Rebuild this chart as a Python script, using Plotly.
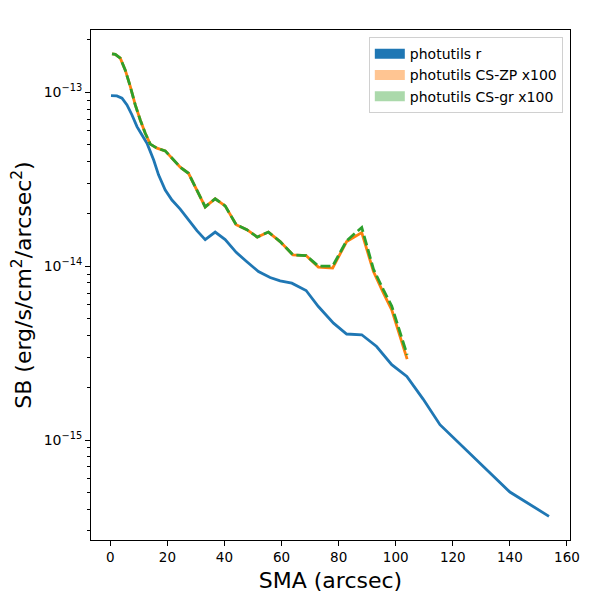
import plotly.graph_objects as go

# surface brightness profiles
sma_r = [0.25, 2.3, 4.1, 5.85, 7.6, 9.35, 11.1, 12.85, 15.2, 16.9, 19.25, 21.6, 24.5, 27.4,
         30.35, 33.25, 36.75, 40.25, 44.1, 47.85, 51.9, 56.0, 59.5, 63.6, 68.6, 72.9, 78.2,
         82.8, 88.1, 93.3, 98.6, 103.9, 109.6, 115.5, 127.2, 140.0, 153.7]
sb_r = [9.56e-14, 9.52e-14, 9.24e-14, 8.45e-14, 7.40e-14, 6.34e-14, 5.68e-14, 5.09e-14,
        4.08e-14, 3.35e-14, 2.74e-14, 2.40e-14, 2.13e-14, 1.85e-14, 1.60e-14, 1.42e-14,
        1.57e-14, 1.42e-14, 1.20e-14, 1.06e-14, 9.31e-15, 8.60e-15, 8.23e-15, 7.98e-15,
        7.24e-15, 5.86e-15, 4.70e-15, 4.07e-15, 4.03e-15, 3.45e-15, 2.71e-15, 2.32e-15,
        1.72e-15, 1.225e-15, 8.05e-16, 5.02e-16, 3.64e-16]

sma_cs = [0.6, 1.75, 3.5, 5.25, 7.0, 8.75, 10.5, 12.25, 14.0, 16.35, 19.25, 21.6, 24.5, 27.4,
          30.35, 33.25, 36.75, 40.25, 44.1, 47.85, 51.5, 55.4, 59.5, 64.0, 68.6, 72.9, 77.9,
          82.8, 88.1, 92.2, 95.7, 98.6, 104.0]
sb_zp = [1.66e-13, 1.65e-13, 1.57e-13, 1.34e-13, 1.08e-13, 8.45e-14, 6.93e-14, 5.81e-14,
         5.03e-14, 4.77e-14, 4.60e-14, 4.17e-14, 3.71e-14, 3.42e-14, 2.74e-14, 2.19e-14,
         2.44e-14, 2.22e-14, 1.73e-14, 1.62e-14, 1.47e-14, 1.57e-14, 1.385e-14, 1.16e-14,
         1.15e-14, 9.87e-15, 9.75e-15, 1.385e-14, 1.56e-14, 9.31e-15, 7.0e-15, 5.61e-15,
         2.92e-15]
sb_gr = [1.66e-13, 1.65e-13, 1.57e-13, 1.34e-13, 1.08e-13, 8.45e-14, 6.93e-14, 5.81e-14,
         5.03e-14, 4.77e-14, 4.60e-14, 4.17e-14, 3.71e-14, 3.42e-14, 2.74e-14, 2.19e-14,
         2.44e-14, 2.22e-14, 1.73e-14, 1.62e-14, 1.47e-14, 1.57e-14, 1.385e-14, 1.16e-14,
         1.15e-14, 1.0e-14, 1.0e-14, 1.40e-14, 1.67e-14, 9.6e-15, 7.3e-15, 5.9e-15,
         3.09e-15]

names = ["photutils r", "photutils CS-ZP x100", "photutils CS-gr x100"]
patch_colors = ["#1f77b4", "rgba(255,127,14,0.45)", "rgba(44,160,44,0.4)"]

x_ticks = [0, 20, 40, 60, 80, 100, 120, 140, 160]
y_ticks = [1e-15, 1e-14, 1e-13]
y_ticktext = ["10<sup>\u221215</sup>", "10<sup>\u221214</sup>", "10<sup>\u221213</sup>"]
# minor log ticks (2..9 in each decade)
minor_ticks = [m * 10.0 ** e for e in (-16, -15, -14, -13) for m in (2, 3, 4, 5, 6, 7, 8, 9)]

fig = go.Figure()

fig.add_trace(go.Scatter(x=sma_r, y=sb_r, mode="lines", showlegend=False,
                         line=dict(color="#1f77b4", width=2.8)))
fig.add_trace(go.Scatter(x=sma_cs, y=sb_zp, mode="lines", showlegend=False,
                         line=dict(color="#ff7f0e", width=2.8)))
fig.add_trace(go.Scatter(x=sma_cs, y=sb_gr, mode="lines", showlegend=False,
                         line=dict(color="#2ca02c", width=2.8, dash="10px,4px")))

# legend entries drawn as thick patches, like the matplotlib bands
for name, col in zip(names, patch_colors):
    fig.add_trace(go.Scatter(x=[None], y=[None], mode="lines",
                             line=dict(width=10, color=col), name=name))

axis_style = dict(showline=True, linecolor="black", linewidth=1, mirror=True,
                  ticks="outside", ticklen=5, tickwidth=1, tickcolor="black",
                  showgrid=False, zeroline=False, automargin=False)

fig.update_xaxes(range=[-6.76, 161.06], tickvals=x_ticks,
                 tickfont=dict(family="DejaVu Sans", size=13.5, color="black"),
                 title=dict(text="SMA (arcsec)", standoff=8,
                            font=dict(family="DejaVu Sans", size=22, color="black")),
                 **axis_style)
fig.update_yaxes(type="log", range=[-15.575, -12.642],
                 tickmode="array", tickvals=y_ticks, ticktext=y_ticktext,
                 tickfont=dict(family="DejaVu Sans", size=14, color="black"),
                 minor=dict(ticks="outside", ticklen=3, tickcolor="black", tickwidth=1,
                            tickmode="array", tickvals=minor_ticks),
                 title=dict(text="SB (erg/s/cm<sup>2</sup>/arcsec<sup>2</sup>)", standoff=12,
                            font=dict(family="DejaVu Sans", size=22, color="black")),
                 **axis_style)

# the page body adds 8px on the top and left, margins make up for it
fig.update_layout(
    width=600, height=600,
    margin=dict(l=83, r=38, t=22, b=68),
    paper_bgcolor="white", plot_bgcolor="white",
    legend=dict(x=0.985, y=0.986, xanchor="right", yanchor="top",
                bgcolor="white", bordercolor="#d0d0d0", borderwidth=1,
                font=dict(family="DejaVu Sans", size=14, color="black"),
                tracegroupgap=0),
)

fig.write_html("out.html")
